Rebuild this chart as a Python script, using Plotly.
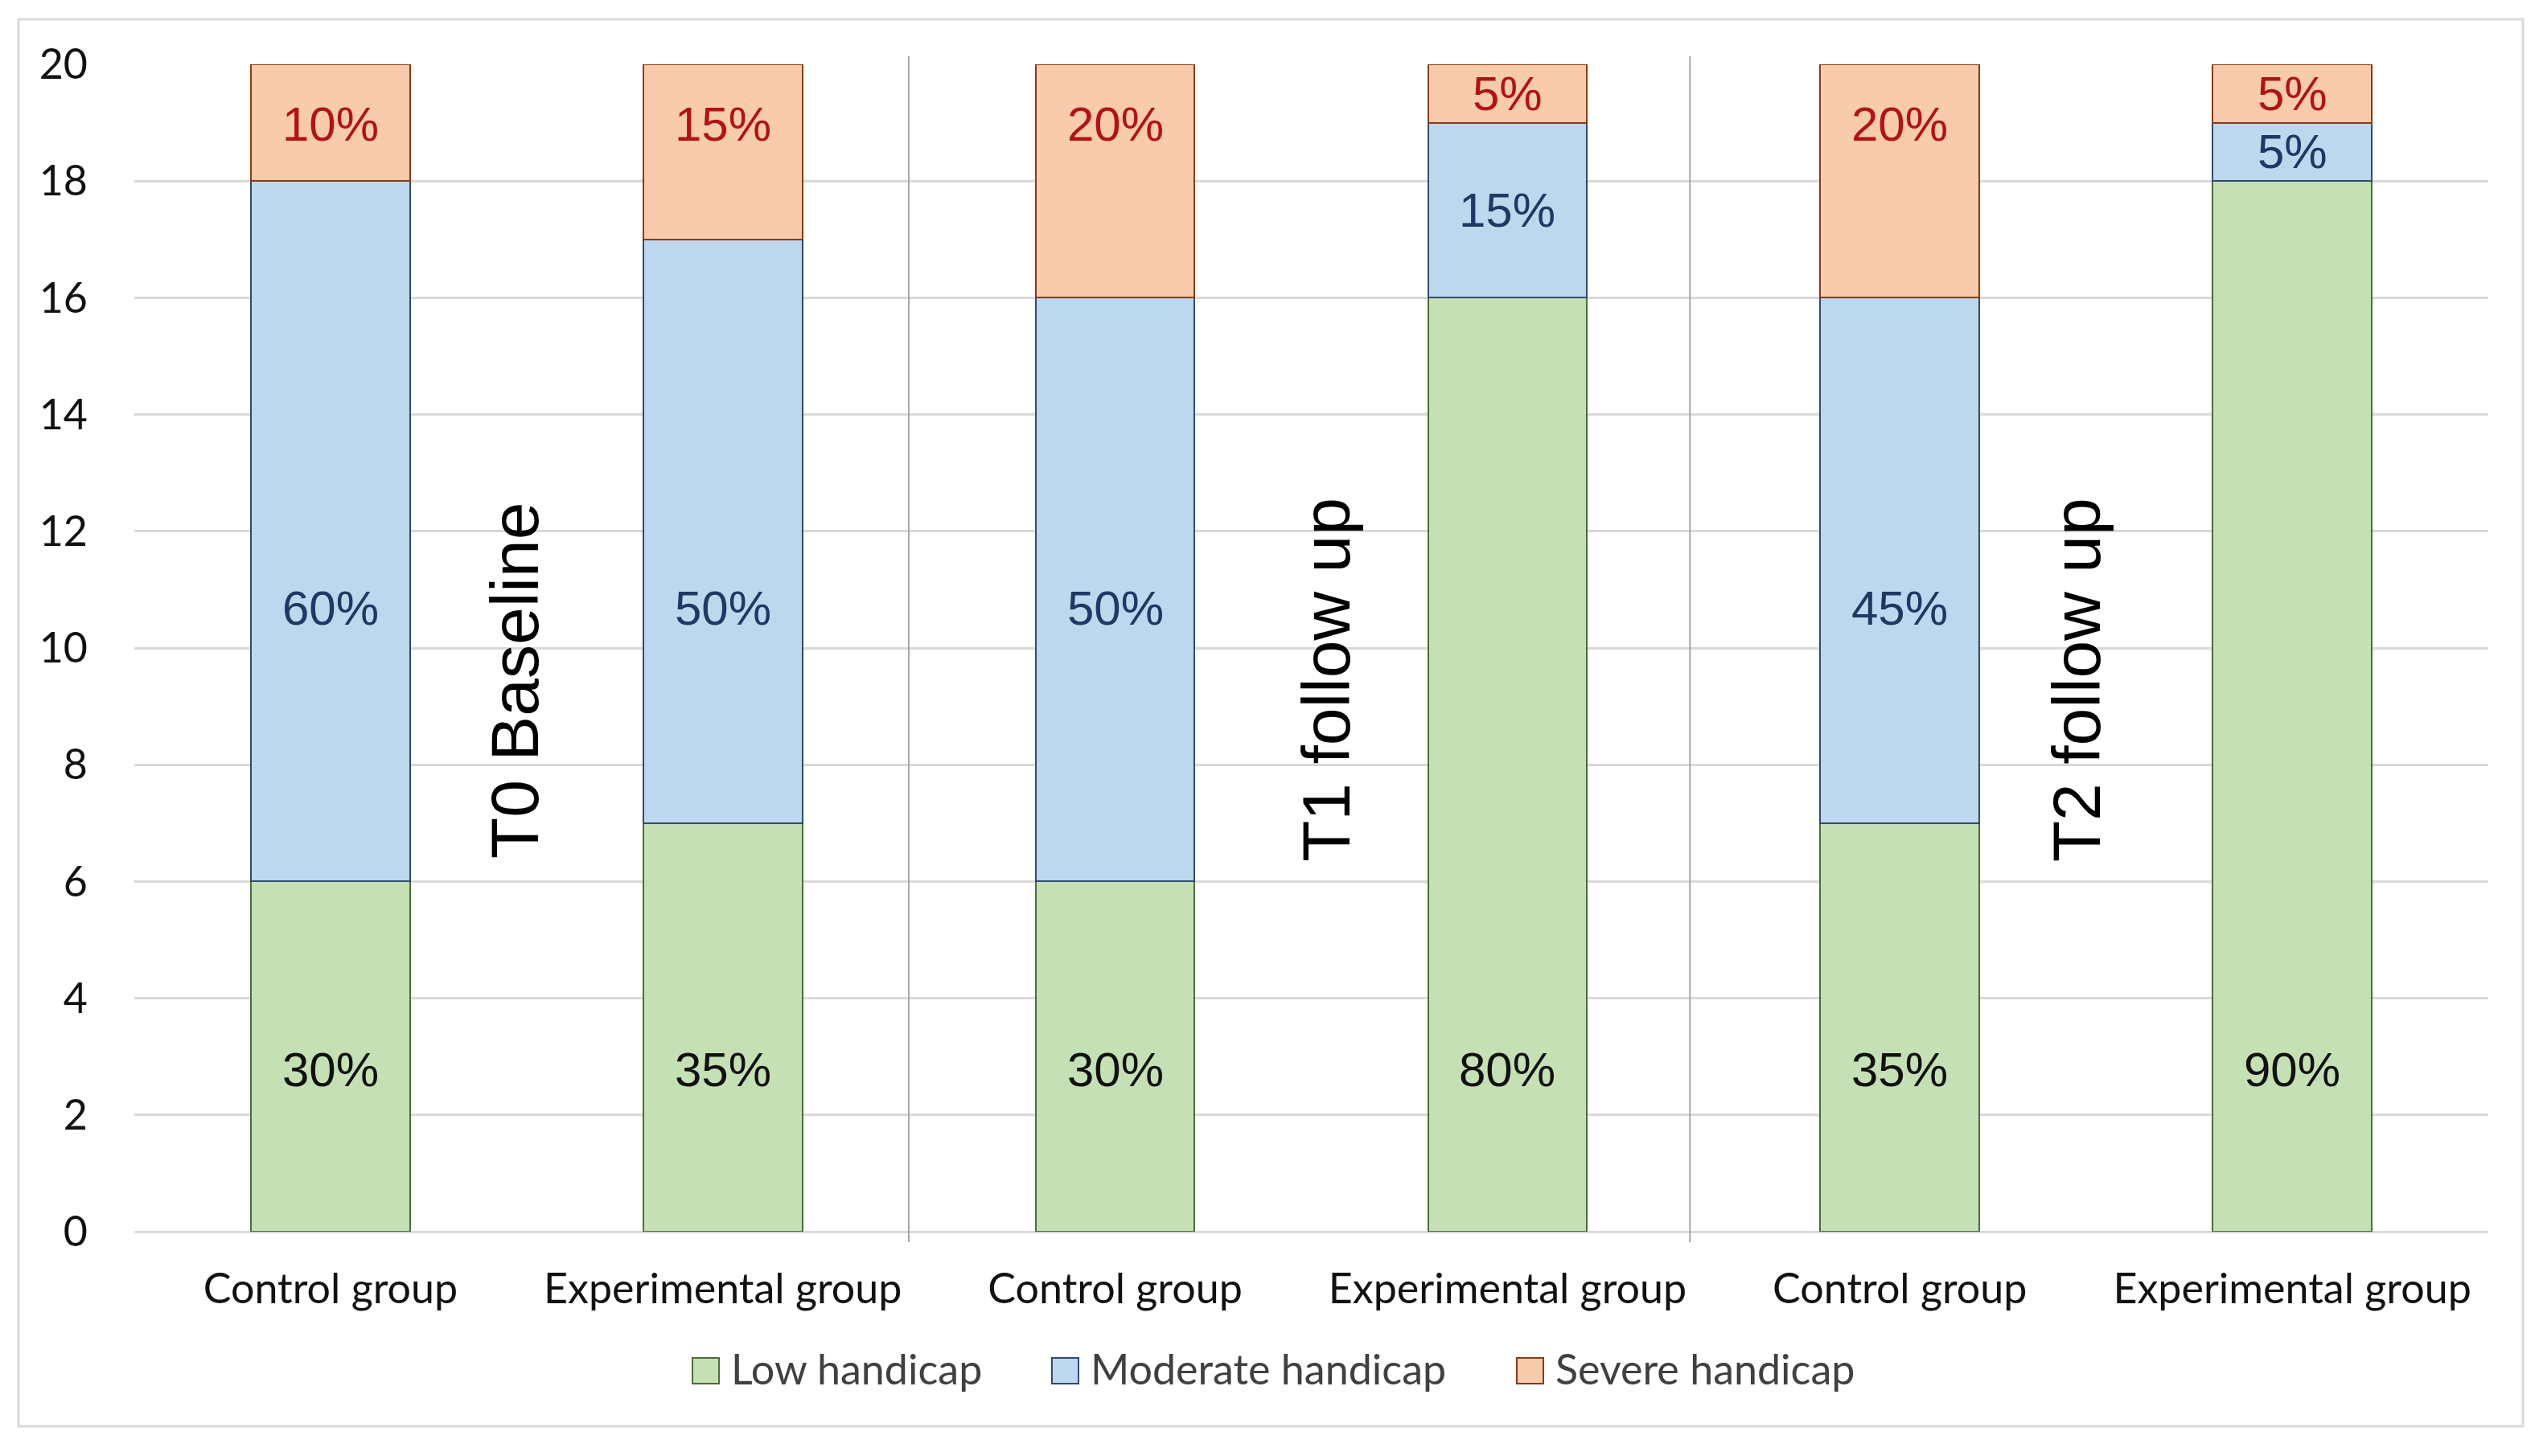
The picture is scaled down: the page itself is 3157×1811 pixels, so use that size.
import plotly.graph_objects as go

# ---------------- data ----------------
categories = ["Control group", "Experimental group",
              "Control group", "Experimental group",
              "Control group", "Experimental group"]
periods = ["T0 Baseline", "T1 follow up", "T2 follow up"]
series_names = ["Low handicap", "Moderate handicap", "Severe handicap"]
low_values = [6, 7, 6, 16, 7, 18]
moderate_values = [12, 10, 10, 3, 9, 1]
severe_values = [2, 3, 4, 1, 4, 1]
group_total = 20
y_ticks = [0, 2, 4, 6, 8, 10, 12, 14, 16, 18, 20]

# ---------------- style ----------------
OFF = 8                                   # browser body margin
W, H = 3157 - 2 * OFF, 1811 - 2 * OFF
PL, PR, PT, PB = 167 - OFF, 3094 - OFF, 80 - OFF, 1532 - OFF   # plot area (figure px)
fills = ["#C5E0B4", "#BDD7EE", "#F8CBAD"]
edges = ["#4E6B3A", "#2F4B6E", "#8A3A14"]
label_colors = ["#111111", "#1F3864", "#B01414"]
label_anchor = [2.78, 10.68, 18.97]          # Excel-like manual label rows
LABEL_FONT = "Liberation Sans, Arial, sans-serif"
AXIS_FONT = "Lato, Carlito, Calibri, sans-serif"


def px_x(px):
    """reference-image px -> paper x"""
    return (px - OFF - PL) / (PR - PL)


def px_y(py):
    """reference-image px -> paper y"""
    return (PB - (py - OFF)) / (PB - PT)


x_idx = list(range(len(categories)))
all_series = [low_values, moderate_values, severe_values]

fig = go.Figure()
for name, vals, fc, ec in zip(series_names, all_series, fills, edges):
    fig.add_trace(go.Bar(
        x=x_idx, y=vals, name=name,
        marker=dict(color=fc, line=dict(color=ec, width=2)),
        hoverinfo="name+y", showlegend=False,
    ))

annotations = []
# data labels
base = [0] * len(categories)
for s, vals in enumerate(all_series):
    for i, v in enumerate(vals):
        lo, hi = base[i], base[i] + v
        yy = label_anchor[s] if lo <= label_anchor[s] <= hi else (lo + hi) / 2
        annotations.append(dict(
            x=i, y=yy, xref="x", yref="y", showarrow=False,
            text=f"{round(100 * v / group_total)}%",
            font=dict(family=LABEL_FONT, size=60, color=label_colors[s]),
        ))
        base[i] = hi

# period labels (rotated)
period_x = [0.470, 2.538, 4.451]
for t, xx in zip(periods, period_x):
    annotations.append(dict(
        x=xx, y=9.45, xref="x", yref="y", showarrow=False, textangle=-90,
        text=t, font=dict(family=LABEL_FONT, size=84, color="#000000"),
    ))

shapes = []
# group separators
for sx in [1.474, 3.465]:
    shapes.append(dict(type="line", xref="x", yref="paper", x0=sx, x1=sx,
                       y0=px_y(1545), y1=px_y(70),
                       line=dict(color="#A6A6A6", width=2)))

# outer chart border
shapes.append(dict(type="rect", xref="paper", yref="paper",
                   x0=px_x(23), x1=px_x(3137), y0=px_y(1774), y1=px_y(24),
                   line=dict(color="#D9D9D9", width=3), fillcolor="rgba(0,0,0,0)",
                   layer="below"))

# custom legend
legend_key_x = [861, 1308, 1886]
for name, fc, ec, kx in zip(series_names, fills, edges, legend_key_x):
    shapes.append(dict(type="rect", xref="paper", yref="paper",
                       x0=px_x(kx), x1=px_x(kx + 33),
                       y0=px_y(1721), y1=px_y(1689),
                       fillcolor=fc, line=dict(color=ec, width=2)))
    annotations.append(dict(
        x=px_x(kx + 46), y=px_y(1702), xref="paper", yref="paper",
        xanchor="left", yanchor="middle", showarrow=False, text=name,
        font=dict(family=AXIS_FONT, size=52, color="#404040"),
    ))

fig.update_layout(
    width=W, height=H,
    margin=dict(l=PL, r=W - PR, t=PT, b=H - PB, pad=0),
    barmode="stack", bargap=0.595,
    paper_bgcolor="white", plot_bgcolor="white",
    showlegend=False,
    annotations=annotations, shapes=shapes,
    xaxis=dict(
        range=[-0.5, len(categories) - 0.5],
        tickmode="array", tickvals=x_idx, ticktext=categories,
        showgrid=False, zeroline=False, showline=False, ticks="",
        tickfont=dict(family=AXIS_FONT, size=52, color="#111111"),
        ticklabelstandoff=36,
    ),
    yaxis=dict(
        range=[0, group_total], tickmode="array", tickvals=y_ticks,
        showgrid=True, gridcolor="#D9D9D9", gridwidth=3,
        zeroline=True, zerolinecolor="#D9D9D9", zerolinewidth=3,
        showline=False, ticks="",
        tickfont=dict(family=AXIS_FONT, size=52, color="#111111"),
        ticklabelstandoff=57,
    ),
)

fig.write_html("out.html")
